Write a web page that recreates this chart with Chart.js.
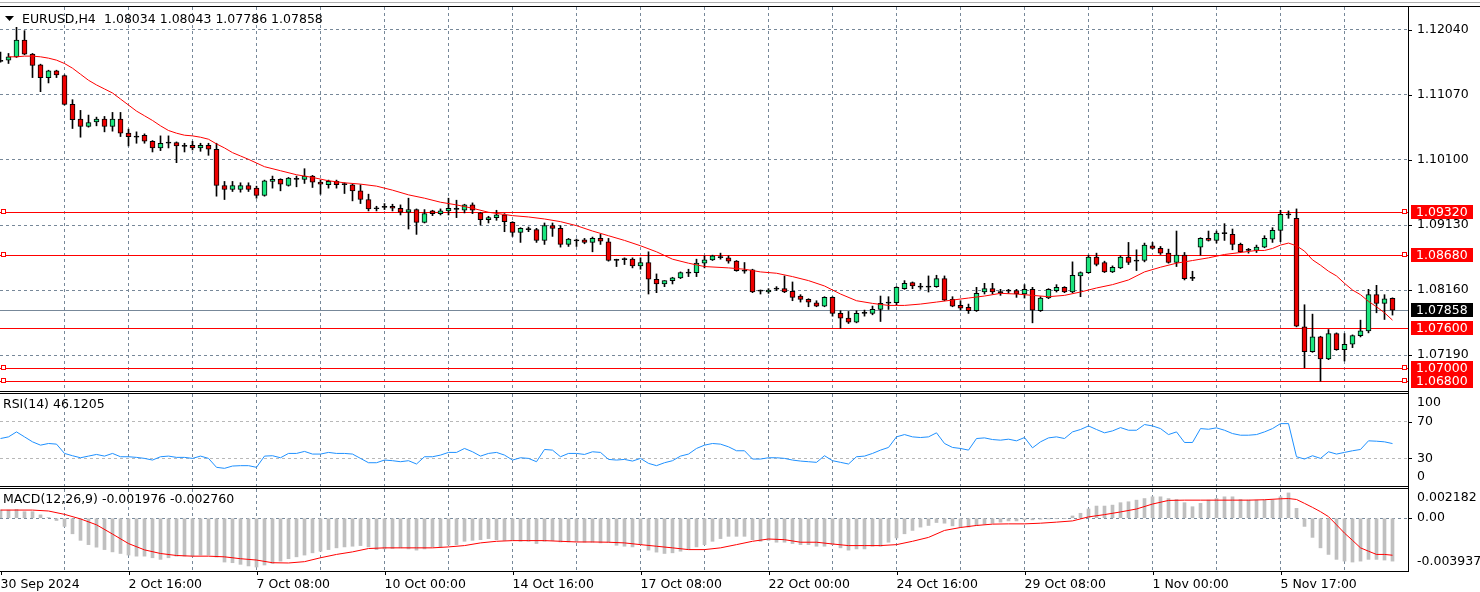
<!DOCTYPE html>
<html>
<head>
<meta charset="utf-8">
<title>EURUSD,H4</title>
<script src="https://cdn.jsdelivr.net/npm/chart.js@4.4.1/dist/chart.umd.min.js"></script>
<style>
  html, body { margin: 0; padding: 0; background: #fff; }
  #wrap { position: relative; width: 1480px; height: 592px; overflow: hidden; background: #fff; }
  .pane { position: absolute; left: 0; width: 1480px; }
  #paneMain { top: 0; height: 391px; }
  #paneRsi { top: 393px; height: 93px; }
  #paneMacd { top: 489px; height: 103px; }
  .rule { position: absolute; left: 0; width: 1409px; height: 1px; background: #000; z-index: 2; }
</style>
</head>
<body>
<div id="wrap">
  <div class="pane" id="paneMain"><canvas id="mainChart"></canvas></div>
  <div class="pane" id="paneRsi"><canvas id="rsiChart"></canvas></div>
  <div class="pane" id="paneMacd"><canvas id="macdChart"></canvas></div>
  <div class="rule" style="top:2px;width:1480px;background:#b0b0b0"></div>
  <div class="rule" style="top:6px;width:1480px"></div>
  <div class="rule" style="top:391px"></div>
  <div class="rule" style="top:393px"></div>
  <div class="rule" style="top:486px"></div>
  <div class="rule" style="top:488px"></div>
  <div class="rule" style="top:571px"></div>
  <div class="rule" style="top:6px;left:1408px;width:1px;height:566px"></div>
</div>
<script>
// EURUSD H4, one value per bar (bar 0 = 30 Sep 2024 00:00)
const opens = [
  1.1158,1.1159,1.1164,1.1189,1.1168,1.1152,1.1133,1.1143,1.1136,1.1093,
  1.1071,1.1060,1.1067,1.1071,1.1060,1.1071,1.1050,1.1045,1.1047,1.1038,
  1.1028,1.1036,1.1036,1.1031,1.1032,1.1028,1.1032,1.1026,1.0972,1.0966,
  1.0966,1.0972,1.0968,1.0957,1.0978,1.0981,1.0972,1.0982,1.0981,1.0986,
  1.0977,1.0973,1.0978,1.0974,1.0973,1.0964,1.0951,1.0938,1.0940,1.0941,
  1.0938,1.0932,1.0936,1.0917,1.0934,1.0930,1.0934,1.0937,1.0935,1.0943,
  1.0931,1.0921,1.0924,1.0928,1.0917,1.0902,1.0907,1.0906,1.0890,1.0912,
  1.0908,1.0884,1.0890,1.0891,1.0887,1.0893,1.0888,1.0861,1.0862,1.0862,
  1.0852,1.0857,1.0832,1.0825,1.0830,1.0834,1.0842,1.0842,1.0856,1.0861,
  1.0865,1.0864,1.0859,1.0845,1.0846,1.0815,1.0813,1.0818,1.0818,1.0814,
  1.0807,1.0802,1.0797,1.0792,1.0805,1.0781,1.0774,1.0768,1.0782,1.0781,
  1.0787,1.0797,1.0797,1.0818,1.0827,1.0821,1.0821,1.0821,1.0833,1.0802,
  1.0793,1.0790,1.0785,1.0813,1.0818,1.0813,1.0815,1.0815,1.0810,1.0817,
  1.0785,1.0804,1.0815,1.0820,1.0813,1.0837,1.0842,1.0865,1.0857,1.0843,
  1.0849,1.0865,1.0860,1.0860,1.0882,1.0878,1.0871,1.0857,1.0868,1.0834,
  1.0880,1.0893,1.0890,1.0901,1.0899,1.0884,1.0876,1.0875,1.0880,1.0892,
  1.0905,1.0929,1.0923,1.0761,1.0724,1.0746,1.0713,1.0751,1.0727,1.0735,
  1.0748,1.0755,1.0809,1.0796,1.08034
];
const highs = [
  1.1171,1.1169,1.1208,1.1203,1.1169,1.1153,1.1144,1.1144,1.1137,1.1100,
  1.1084,1.1077,1.1074,1.1075,1.1081,1.1081,1.1056,1.1052,1.1049,1.1039,
  1.1046,1.1046,1.1037,1.1035,1.1038,1.1035,1.1035,1.1035,1.0978,1.0978,
  1.0976,1.0976,1.0971,1.0980,1.0986,1.0982,1.0984,1.0986,1.0997,1.0987,
  1.0980,1.0980,1.0980,1.0976,1.0974,1.0973,1.0959,1.0941,1.0945,1.0944,
  1.0943,1.0953,1.0937,1.0936,1.0935,1.0937,1.0953,1.0950,1.0944,1.0946,
  1.0932,1.0926,1.0935,1.0930,1.0918,1.0909,1.0910,1.0908,1.0916,1.0916,
  1.0912,1.0893,1.0892,1.0893,1.0895,1.0899,1.0893,1.0862,1.0864,1.0864,
  1.0864,1.0873,1.0840,1.0830,1.0835,1.0843,1.0847,1.0862,1.0867,1.0868,
  1.0871,1.0867,1.0860,1.0857,1.0847,1.0816,1.0818,1.0821,1.0837,1.0828,
  1.0809,1.0803,1.0800,1.0806,1.0806,1.0785,1.0784,1.0785,1.0786,1.0792,
  1.0807,1.0806,1.0821,1.0830,1.0828,1.0826,1.0837,1.0838,1.0837,1.0806,
  1.0800,1.0795,1.0820,1.0826,1.0826,1.0817,1.0817,1.0817,1.0824,1.0820,
  1.0806,1.0818,1.0824,1.0821,1.0858,1.0843,1.0868,1.0871,1.0859,1.0852,
  1.0867,1.0887,1.0876,1.0886,1.0887,1.0881,1.0877,1.0904,1.0872,1.0844,
  1.0894,1.0904,1.0904,1.0915,1.0907,1.0886,1.0878,1.0883,1.0897,1.0909,
  1.0935,1.0934,1.0937,1.0794,1.0780,1.0747,1.0757,1.0752,1.0751,1.0749,
  1.0771,1.0817,1.0823,1.0809,1.08043
];
const lows = [
  1.1156,1.1154,1.1163,1.1167,1.1133,1.1112,1.1125,1.1133,1.1092,1.1057,
  1.1044,1.1059,1.1061,1.1052,1.1053,1.1045,1.1031,1.1035,1.1035,1.1022,
  1.1024,1.1028,1.1006,1.1022,1.1025,1.1023,1.1017,1.0956,1.0951,1.0963,
  1.0962,1.0963,1.0953,1.0956,1.0968,1.0964,1.0971,1.0970,1.0975,1.0969,
  1.0959,1.0968,1.0968,1.0960,1.0949,1.0945,1.0934,1.0934,1.0936,1.0934,
  1.0928,1.0907,1.0899,1.0916,1.0927,1.0928,1.0928,1.0924,1.0931,1.0930,
  1.0913,1.0916,1.0920,1.0903,1.0896,1.0887,1.0903,1.0887,1.0884,1.0896,
  1.0880,1.0881,1.0881,1.0885,1.0873,1.0884,1.0859,1.0851,1.0854,1.0849,
  1.0847,1.0810,1.0812,1.0821,1.0825,1.0833,1.0836,1.0836,1.0849,1.0860,
  1.0862,1.0856,1.0844,1.0841,1.0812,1.0810,1.0811,1.0815,1.0812,1.0800,
  1.0798,1.0791,1.0791,1.0791,1.0777,1.0759,1.0766,1.0767,1.0777,1.0779,
  1.0769,1.0787,1.0794,1.0817,1.0818,1.0817,1.0813,1.0820,1.0800,1.0791,
  1.0786,1.0781,1.0784,1.0810,1.0810,1.0808,1.0811,1.0805,1.0804,1.0767,
  1.0784,1.0803,1.0813,1.0812,1.0812,1.0806,1.0841,1.0852,1.0842,1.0842,
  1.0848,1.0854,1.0845,1.0858,1.0877,1.0869,1.0856,1.0851,1.0831,1.0830,
  1.0868,1.0889,1.0886,1.0890,1.0876,1.0872,1.0871,1.0872,1.0879,1.0887,
  1.0888,1.0923,1.0761,1.0700,1.0723,1.0680,1.0712,1.0726,1.0710,1.0730,
  1.0746,1.0752,1.0782,1.0772,1.07786
];
const closes = [
  1.1158,1.1164,1.1189,1.1168,1.1151,1.1133,1.1143,1.1137,1.1093,1.1070,
  1.1060,1.1066,1.1071,1.1060,1.1071,1.1050,1.1045,1.1045,1.1038,1.1028,
  1.1035,1.1036,1.1031,1.1031,1.1028,1.1032,1.1026,1.0972,1.0966,1.0972,
  1.0972,1.0966,1.0957,1.0979,1.0981,1.0974,1.0983,1.0982,1.0986,1.0977,
  1.0974,1.0978,1.0973,1.0974,1.0964,1.0951,1.0937,1.0938,1.0940,1.0938,
  1.0932,1.0936,1.0917,1.0930,1.0930,1.0934,1.0938,1.0937,1.0943,1.0935,
  1.0921,1.0924,1.0928,1.0918,1.0902,1.0908,1.0907,1.0890,1.0912,1.0908,
  1.0884,1.0892,1.0890,1.0887,1.0893,1.0889,1.0860,1.0861,1.0862,1.0852,
  1.0857,1.0832,1.0825,1.0830,1.0834,1.0842,1.0842,1.0856,1.0861,1.0867,
  1.0865,1.0859,1.0845,1.0845,1.0813,1.0815,1.0816,1.0818,1.0813,1.0805,
  1.0802,1.0798,1.0792,1.0805,1.0781,1.0774,1.0768,1.0781,1.0782,1.0787,
  1.0796,1.0797,1.0820,1.0826,1.0822,1.0821,1.0821,1.0833,1.0801,1.0792,
  1.0789,1.0785,1.0811,1.0818,1.0813,1.0813,1.0815,1.0810,1.0817,1.0786,
  1.0804,1.0817,1.0820,1.0813,1.0838,1.0842,1.0865,1.0854,1.0843,1.0850,
  1.0865,1.0857,1.0860,1.0883,1.0878,1.0871,1.0857,1.0868,1.0833,1.0834,
  1.0893,1.0890,1.0901,1.0901,1.0884,1.0873,1.0876,1.0880,1.0893,1.0905,
  1.0929,1.0929,1.0762,1.0724,1.0746,1.0713,1.0751,1.0727,1.0735,1.0748,
  1.0755,1.0809,1.0796,1.0803,1.07858
];
const maLine = [
  null,1.1164,1.1164,1.1165,1.1165,1.1164,1.1162,1.1159,1.1154,1.1147,
  1.1138,1.1129,1.1122,1.1116,1.1110,1.1101,1.1092,1.1083,1.1076,1.1069,
  1.1061,1.1054,1.1050,1.1047,1.1046,1.1044,1.1041,1.1034,1.1028,1.1021,
  1.1016,1.1011,null,1.1000,null,1.0994,null,1.0988,null,1.0984,
  null,1.0979,null,1.0976,null,1.0974,null,1.0971,null,1.0965,
  null,1.0958,null,1.0953,null,1.0947,null,1.0943,null,1.0938,
  null,1.0932,null,null,1.0927,null,1.0925,null,1.0922,null,
  1.0918,null,1.0912,null,1.0904,null,1.0897,null,1.0890,null,
  1.0882,null,1.0873,null,1.0862,null,1.0856,null,1.0851,null,
  null,1.0849,null,1.0847,null,1.0843,null,1.0841,null,1.0836,
  null,1.0830,null,1.0822,null,1.0810,null,1.0800,null,1.0796,
  null,1.0793,null,1.0793,null,1.0795,null,1.0798,null,1.0801,
  null,1.0804,null,1.0807,null,1.0811,null,1.0810,null,1.0808,
  null,1.0806,null,1.0808,null,1.0813,null,1.0819,null,1.0824,
  null,1.0831,null,1.0843,null,1.0850,null,1.0856,null,1.0860,
  null,1.0864,null,1.0869,null,1.0872,null,1.0875,1.0875,1.0878,
  1.0883,1.0886,1.0882,1.0874,1.0861,1.0853,1.0844,1.0837,1.0826,1.0816,
  1.0809,1.0799,1.0791,1.0782,1.0771
];
const rsiValues = [
  51.6,53.4,58.8,53.4,48.0,44.4,46.2,45.5,35.4,32.9,
  30.7,32.5,34.3,32.5,35.4,31.8,31.8,31.1,30.0,28.2,
  31.8,32.5,31.1,31.1,30.0,32.5,30.0,20.3,19.2,21.7,
  22.1,22.1,20.3,32.5,32.9,30.7,35.4,35.4,37.6,34.7,
  34.7,36.5,35.4,35.4,34.7,30.0,25.3,25.3,28.2,27.5,
  26.4,27.5,23.9,31.8,31.8,33.6,36.5,36.5,40.8,37.2,
  32.5,35.4,36.5,33.6,28.2,30.7,30.0,26.4,39.7,39.0,
  31.8,35.4,35.4,34.3,37.2,36.5,28.9,28.2,28.9,27.1,
  30.0,24.6,22.1,25.3,27.5,32.5,34.7,40.8,44.4,46.2,
  45.5,42.6,38.3,38.3,29.3,29.3,30.7,30.7,30.0,28.2,
  27.1,26.4,25.7,32.9,27.5,25.7,23.9,31.8,32.5,35.4,
  39.0,41.9,53.4,55.9,53.4,52.7,53.4,57.8,46.2,41.9,
  40.8,39.0,51.6,52.3,50.5,49.8,50.9,49.1,52.7,41.5,
  48.0,52.3,53.4,51.6,58.8,61.4,65.3,61.4,57.8,59.9,
  63.5,60.6,60.6,66.8,65.3,62.4,55.9,58.8,47.3,47.3,
  62.4,61.7,63.2,60.6,57.0,55.2,55.2,55.9,58.8,62.4,
  67.8,67.8,31.8,29.3,32.9,30.0,37.2,34.7,36.5,38.3,
  39.7,49.1,48.7,48.0,46.12
];
const macdHist = [
  0.00061,0.00061,0.00066,0.00049,0.00049,0.00025,0.00005,-0.00017,-0.00061,-0.00116,
  -0.00165,-0.00197,-0.00216,-0.00234,-0.00251,-0.00263,-0.00275,-0.00283,-0.00283,-0.00295,
  -0.00307,-0.00295,-0.00283,-0.00283,-0.00283,-0.00275,-0.00275,-0.00290,-0.00327,-0.00332,
  -0.00344,-0.00356,-0.00364,-0.00349,-0.00337,-0.00320,-0.00302,-0.00288,-0.00275,-0.00258,
  -0.00246,-0.00234,-0.00221,-0.00214,-0.00209,-0.00204,-0.00214,-0.00234,-0.00229,-0.00226,
  -0.00221,-0.00229,-0.00238,-0.00229,-0.00214,-0.00214,-0.00199,-0.00197,-0.00172,-0.00165,
  -0.00160,-0.00152,-0.00160,-0.00165,-0.00165,-0.00172,-0.00172,-0.00189,-0.00172,-0.00167,
  -0.00177,-0.00177,-0.00172,-0.00179,-0.00179,-0.00184,-0.00179,-0.00202,-0.00209,-0.00214,
  -0.00197,-0.00238,-0.00253,-0.00263,-0.00258,-0.00246,-0.00234,-0.00214,-0.00197,-0.00172,
  -0.00152,-0.00135,-0.00135,-0.00135,-0.00160,-0.00172,-0.00165,-0.00179,-0.00179,-0.00189,
  -0.00197,-0.00197,-0.00209,-0.00209,-0.00197,-0.00221,-0.00238,-0.00229,-0.00229,-0.00209,
  -0.00209,-0.00179,-0.00147,-0.00116,-0.00091,-0.00066,-0.00054,-0.00032,-0.00037,-0.00057,
  -0.00066,-0.00066,-0.00054,-0.00044,-0.00037,-0.00029,-0.00020,-0.00020,-0.00012,-0.00012,
  -0.00007,-0.00005,-0.00002,-0.00002,0.00017,0.00037,0.00069,0.00091,0.00091,0.00098,
  0.00116,0.00123,0.00135,0.00147,0.00160,0.00160,0.00147,0.00140,0.00116,0.00086,
  0.00111,0.00135,0.00147,0.00160,0.00160,0.00140,0.00135,0.00135,0.00135,0.00135,
  0.00160,0.00189,0.00074,-0.00061,-0.00143,-0.00221,-0.00270,-0.00307,-0.00320,-0.00327,
  -0.00320,-0.00307,-0.00307,-0.00312,-0.00320
];
const macdSignal = [
  0.00061,null,0.00061,null,0.00061,null,0.00054,null,0.00029,null,
  -0.00005,null,-0.00049,null,-0.00118,null,-0.00189,null,-0.00236,null,
  -0.00263,null,-0.00278,null,-0.00283,null,-0.00283,null,-0.00288,null,
  -0.00302,null,-0.00312,null,-0.00332,null,-0.00334,null,-0.00324,null,
  -0.00295,null,-0.00270,null,-0.00251,null,-0.00226,null,-0.00221,null,
  -0.00221,null,-0.00221,null,-0.00221,null,-0.00214,null,-0.00204,null,
  -0.00184,null,-0.00172,null,-0.00167,null,-0.00167,null,-0.00167,null,
  -0.00172,null,-0.00177,null,-0.00177,null,-0.00179,null,-0.00184,null,
  -0.00197,null,-0.00209,null,-0.00221,null,-0.00234,null,-0.00234,null,
  -0.00221,null,-0.00197,null,-0.00172,null,-0.00155,null,-0.00160,null,
  -0.00179,null,-0.00179,null,-0.00192,null,-0.00204,null,-0.00204,null,
  -0.00204,null,-0.00197,null,-0.00172,null,-0.00143,null,-0.00091,null,
  -0.00069,null,-0.00054,null,-0.00044,null,-0.00042,null,-0.00042,null,
  -0.00037,null,-0.00029,null,-0.00020,null,0.00010,null,0.00027,null,
  0.00047,null,0.00069,null,0.00106,null,0.00133,null,0.00135,null,
  0.00135,null,0.00135,null,0.00135,null,0.00135,null,0.00138,null,
  0.00145,0.00147,0.00140,0.00111,0.00081,0.00049,0.00012,-0.00049,-0.00111,-0.00165,
  -0.00221,-0.00246,-0.00270,-0.00270,-0.00276
];

const timeLabels = ['30 Sep 2024', '2 Oct 16:00', '7 Oct 08:00', '10 Oct 00:00', '14 Oct 16:00',
  '17 Oct 08:00', '22 Oct 00:00', '24 Oct 16:00', '29 Oct 08:00', '1 Nov 00:00', '5 Nov 17:00'];
const priceTicks = [1.1204, 1.1107, 1.1010, 1.0913, 1.0816, 1.0719];
const levels = [1.0932, 1.0868, 1.0760, 1.0700, 1.0680];
const anchoredLevels = [1.0932, 1.0868, 1.0700, 1.0680];
const lastPrice = 1.07858;
const headerQuote = [1.08034, 1.08043, 1.07786, 1.07858];
const rsiTitle = 'RSI(14) 46.1205';
const macdTitle = 'MACD(12,26,9) -0.001976 -0.002760';

const GRID = '#778899';
const FONT = '12.5px "DejaVu Sans", sans-serif';
const BULL = '#1de67f';
const BEAR = '#ee0000';

Chart.defaults.font.family = '"DejaVu Sans", sans-serif';
Chart.defaults.font.size = 12.5;
Chart.defaults.color = '#000';
Chart.defaults.animation = false;
Chart.defaults.plugins.legend.display = false;
Chart.defaults.plugins.tooltip.enabled = false;

const bars = opens.map((_, i) => i);
const gridBars = [];
for (let v = 0; v <= 176; v += 8) gridBars.push(v);

function bodyRange(i) {
  const o = opens[i], c = closes[i];
  if (o === c) return [o - 0.00008, o + 0.00008];
  return [Math.min(o, c), Math.max(o, c)];
}

function bodyColor(i) {
  if (closes[i] > opens[i]) return BULL;
  if (closes[i] < opens[i]) return BEAR;
  return '#000';
}

function timeAxis(withLabels) {
  return {
    type: 'linear',
    offset: false,
    min: -0.0625,
    max: 175.9375,
    afterBuildTicks: s => { s.ticks = gridBars.map(v => ({ value: v })); },
    afterFit: s => { s.height = withLabels ? 21 : 0; s.paddingLeft = 0; s.paddingRight = 0; },
    grid: {
      offset: false,
      color: c => (c.tick && c.tick.value === 0 ? 'rgba(0,0,0,0)' : GRID),
      drawTicks: false,
    },
    border: { display: false, dash: [3, 3] },
    ticks: withLabels ? {
      autoSkip: false,
      maxRotation: 0,
      align: 'start',
      padding: 6,
      callback: v => (v % 16 === 0 && timeLabels[v / 16]) ? timeLabels[v / 16] : '',
    } : { display: false },
  };
}

function valueAxis(min, max, ticks, fmt, gridColor) {
  return {
    position: 'right',
    min: min,
    max: max,
    afterBuildTicks: s => { s.ticks = ticks.map(v => ({ value: v })); },
    afterFit: s => { s.width = 72; s.paddingTop = 0; s.paddingBottom = 0; },
    grid: { color: gridColor, drawTicks: false },
    border: { display: false, dash: [3, 3] },
    ticks: { padding: 9, callback: fmt },
  };
}

function tickMarks(ctx, area, scale, values) {
  ctx.strokeStyle = '#000';
  ctx.lineWidth = 1;
  values.forEach(v => {
    const py = Math.round(scale.getPixelForValue(v)) + 0.5;
    ctx.beginPath();
    ctx.moveTo(area.right, py);
    ctx.lineTo(area.right + 4, py);
    ctx.stroke();
  });
}

const mainDecor = {
  id: 'mainDecor',
  beforeDatasetsDraw(chart) {
    const { ctx, chartArea: a, scales: { y } } = chart;
    ctx.save();
    ctx.lineWidth = 1;
    ctx.strokeStyle = GRID;
    let py = Math.round(y.getPixelForValue(lastPrice)) + 0.5;
    ctx.beginPath(); ctx.moveTo(a.left, py); ctx.lineTo(a.right, py); ctx.stroke();
    ctx.strokeStyle = '#ff0000';
    levels.forEach(v => {
      py = Math.round(y.getPixelForValue(v)) + 0.5;
      ctx.beginPath(); ctx.moveTo(a.left, py); ctx.lineTo(a.right, py); ctx.stroke();
    });
    ctx.restore();
  },
  afterDraw(chart) {
    const { ctx, chartArea: a, scales: { y } } = chart;
    ctx.save();
    // anchor squares on the level lines
    ctx.lineWidth = 1;
    ctx.strokeStyle = '#ff0000';
    ctx.fillStyle = '#fff';
    anchoredLevels.forEach(v => {
      const py = Math.round(y.getPixelForValue(v));
      [1.5, a.right - 5.5].forEach(px => {
        ctx.fillRect(px, py - 2.5, 4, 4);
        ctx.strokeRect(px, py - 2.5, 4, 4);
      });
    });
    tickMarks(ctx, a, y, priceTicks);

    // price boxes on the right axis
    ctx.font = FONT;
    ctx.textBaseline = 'middle';
    ctx.textAlign = 'left';
    const box = (v, fill) => {
      const py = Math.round(y.getPixelForValue(v));
      ctx.fillStyle = fill;
      ctx.fillRect(a.right + 3, py - 7, 62, 14);
      ctx.fillStyle = '#fff';
      ctx.fillText(v.toFixed(5), a.right + 8, py + 0.5);
    };
    levels.forEach(v => box(v, '#ff0000'));
    box(lastPrice, '#000');

    // header
    ctx.fillStyle = '#000';
    ctx.beginPath();
    ctx.moveTo(5, 16); ctx.lineTo(14, 16); ctx.lineTo(9.5, 21); ctx.closePath();
    ctx.fill();
    ctx.fillText('EURUSD,H4', 22, 19.5);
    headerQuote.forEach((v, k) => ctx.fillText(v.toFixed(5), 104 + 55.7 * k, 19.5));
    ctx.restore();
  },
};

const rsiDecor = {
  id: 'rsiDecor',
  afterDraw(chart) {
    const { ctx, chartArea: a, scales: { y } } = chart;
    ctx.save();
    tickMarks(ctx, a, y, [70, 30]);
    ctx.font = FONT;
    ctx.fillStyle = '#000';
    ctx.textBaseline = 'middle';
    ctx.textAlign = 'left';
    ctx.fillText(rsiTitle, 3, a.top + 11);
    ctx.fillText('100', a.right + 9, a.top + 9);
    ctx.fillText('0', a.right + 9, a.bottom - 9);
    ctx.restore();
  },
};

const macdDecor = {
  id: 'macdDecor',
  afterDraw(chart) {
    const { ctx, chartArea: a, scales: { x, y } } = chart;
    ctx.save();
    tickMarks(ctx, a, y, [0]);
    ctx.strokeStyle = '#000';
    timeLabels.forEach((_, k) => {
      const px = Math.round(x.getPixelForValue(k * 16)) + 0.5;
      ctx.beginPath(); ctx.moveTo(px, a.bottom); ctx.lineTo(px, a.bottom + 4); ctx.stroke();
    });
    ctx.font = FONT;
    ctx.fillStyle = '#000';
    ctx.textBaseline = 'middle';
    ctx.textAlign = 'left';
    ctx.fillText(macdTitle, 3, a.top + 11);
    ctx.fillText('0.002182', a.right + 9, a.top + 9);
    ctx.fillText('-0.003937', a.right + 9, a.bottom - 9);
    ctx.restore();
  },
};

new Chart(document.getElementById('mainChart'), {
  type: 'bar',
  data: {
    datasets: [
      {
        type: 'line',
        data: bars.map(i => ({ x: i, y: maLine[i] })),
        borderColor: '#ff0000',
        borderWidth: 1,
        pointRadius: 0,
        spanGaps: true,
        order: 0,
      },
      {
        data: bars.map(i => ({ x: i, y: [lows[i], highs[i]] })),
        backgroundColor: '#000',
        barThickness: 1,
        grouped: false,
        order: 2,
      },
      {
        data: bars.map(i => ({ x: i, y: bodyRange(i) })),
        backgroundColor: bars.map(bodyColor),
        borderColor: '#000',
        borderWidth: 1,
        borderSkipped: false,
        barThickness: 5,
        grouped: false,
        order: 1,
      },
    ],
  },
  options: {
    responsive: true,
    maintainAspectRatio: false,
    layout: { padding: { top: 7, left: 0, right: 0, bottom: 0 } },
    scales: {
      x: timeAxis(false),
      y: valueAxis(1.066528, 1.123832, priceTicks, v => v.toFixed(5), GRID),
    },
  },
  plugins: [mainDecor],
});

new Chart(document.getElementById('rsiChart'), {
  type: 'line',
  data: {
    datasets: [{
      data: bars.map(i => ({ x: i, y: rsiValues[i] })),
      borderColor: '#1e90ff',
      borderWidth: 1,
      pointRadius: 0,
    }],
  },
  options: {
    responsive: true,
    maintainAspectRatio: false,
    layout: { padding: { top: 1, left: 0, right: 0, bottom: 0 } },
    scales: {
      x: timeAxis(false),
      y: valueAxis(0, 100, [30, 70], v => String(v), '#b8b8b8'),
    },
  },
  plugins: [rsiDecor],
});

new Chart(document.getElementById('macdChart'), {
  type: 'bar',
  data: {
    datasets: [
      {
        type: 'line',
        data: bars.map(i => ({ x: i, y: macdSignal[i] })),
        borderColor: '#ff0000',
        borderWidth: 1,
        pointRadius: 0,
        spanGaps: true,
        order: 0,
      },
      {
        data: bars.map(i => ({ x: i, y: macdHist[i] })),
        backgroundColor: '#c0c0c0',
        barThickness: 3,
        grouped: false,
        order: 1,
      },
    ],
  },
  options: {
    responsive: true,
    maintainAspectRatio: false,
    layout: { padding: 0 },
    scales: {
      x: timeAxis(true),
      y: valueAxis(-0.003937, 0.002182, [0], () => '0.00', GRID),
    },
  },
  plugins: [macdDecor],
});
</script>
</body>
</html>
